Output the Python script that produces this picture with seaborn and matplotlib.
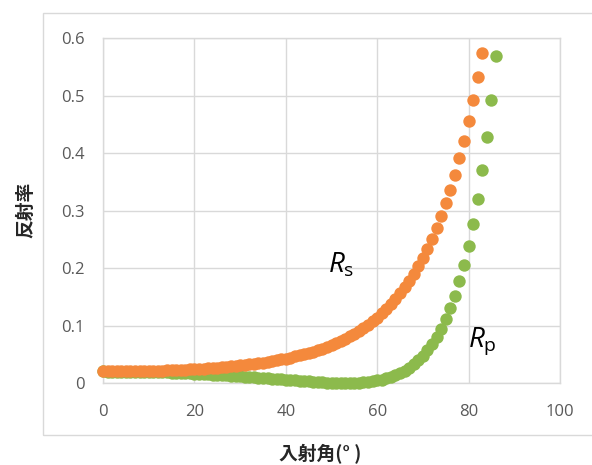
import numpy as np
import pandas as pd
import matplotlib.pyplot as plt
import seaborn as sns
from matplotlib.patches import Rectangle

# ---------------------------------------------------------------------------
# DATA (1 degree steps)
# ---------------------------------------------------------------------------
angle_s = list(range(0, 84))
rs = [
    0.0201, 0.0201, 0.0201, 0.0201, 0.0202, 0.0203, 0.0204, 0.0205, 0.0207, 0.0208,
    0.0210, 0.0212, 0.0214, 0.0217, 0.0220, 0.0223, 0.0226, 0.0229, 0.0233, 0.0237,
    0.0241, 0.0246, 0.0251, 0.0256, 0.0262, 0.0268, 0.0274, 0.0281, 0.0289, 0.0297,
    0.0305, 0.0314, 0.0323, 0.0333, 0.0344, 0.0356, 0.0368, 0.0381, 0.0395, 0.0410,
    0.0426, 0.0443, 0.0461, 0.0480, 0.0501, 0.0523, 0.0547, 0.0572, 0.0600, 0.0629,
    0.0660, 0.0694, 0.0730, 0.0769, 0.0810, 0.0855, 0.0904, 0.0956, 0.1013, 0.1073,
    0.1139, 0.1210, 0.1287, 0.1370, 0.1459, 0.1557, 0.1662, 0.1776, 0.1900, 0.2035,
    0.2180, 0.2339, 0.2511, 0.2698, 0.2901, 0.3122, 0.3362, 0.3623, 0.3907, 0.4216,
    0.4552, 0.4917, 0.5314, 0.5746,
]

angle_p = list(range(0, 87))
rp = [
    0.0201, 0.0200, 0.0200, 0.0200, 0.0199, 0.0198, 0.0197, 0.0196, 0.0195, 0.0193,
    0.0191, 0.0190, 0.0187, 0.0185, 0.0183, 0.0180, 0.0177, 0.0174, 0.0171, 0.0167,
    0.0164, 0.0160, 0.0156, 0.0152, 0.0147, 0.0143, 0.0138, 0.0133, 0.0128, 0.0123,
    0.0117, 0.0112, 0.0106, 0.0100, 0.0094, 0.0088, 0.0082, 0.0076, 0.0070, 0.0064,
    0.0057, 0.0051, 0.0045, 0.0039, 0.0033, 0.0027, 0.0022, 0.0017, 0.0012, 0.0008,
    0.0005, 0.0002, 0.0001, 0.0000, 0.0001, 0.0003, 0.0006, 0.0012, 0.0020, 0.0030,
    0.0044, 0.0060, 0.0081, 0.0106, 0.0136, 0.0172, 0.0215, 0.0265, 0.0324, 0.0393,
    0.0473, 0.0566, 0.0673, 0.0798, 0.0941, 0.1107, 0.1297, 0.1516, 0.1767, 0.2055,
    0.2386, 0.2766, 0.3202, 0.3701, 0.4274, 0.4930, 0.5684,
]

x_ticks = [0, 20, 40, 60, 80, 100]
y_ticks = [0, 0.1, 0.2, 0.3, 0.4, 0.5, 0.6]
y_tick_labels = ["0", "0.1", "0.2", "0.3", "0.4", "0.5", "0.6"]

ORANGE = "#F4893C"
GREEN = "#8CBA4C"
GRID = "#D9D9D9"

# ---------------------------------------------------------------------------
# PLOT
# ---------------------------------------------------------------------------
sns.set_theme(style="white")
plt.rcParams["font.family"] = ["Open Sans", "Noto Sans CJK JP", "DejaVu Sans"]
plt.rcParams["mathtext.fontset"] = "custom"
plt.rcParams["mathtext.it"] = "Open Sans:italic"
plt.rcParams["mathtext.rm"] = "Open Sans"

W, H = 592, 465
fig = plt.figure(figsize=(W / 100, H / 100), dpi=100)
ax = fig.add_axes([103 / W, 1 - 383 / H, 457 / W, 345 / H])

sns.scatterplot(x=angle_p, y=rp, color=GREEN, s=80, linewidth=0, ax=ax,
                clip_on=False, zorder=3)
sns.scatterplot(x=angle_s, y=rs, color=ORANGE, s=80, linewidth=0, ax=ax,
                clip_on=False, zorder=4)

ax.set_xlim(0, 100)
ax.set_ylim(0, 0.6)
ax.set_xticks(x_ticks)
ax.set_yticks(y_ticks)
ax.set_yticklabels(y_tick_labels)
ax.grid(True, color=GRID, lw=1)
ax.set_axisbelow(True)
for sp in ax.spines.values():
    sp.set_color(GRID)
    sp.set_linewidth(1)
ax.tick_params(axis="both", length=0, labelsize=12, colors="#595959")
ax.tick_params(axis="x", pad=15)
ax.tick_params(axis="y", pad=13)

ax.text(52.2, 0.205, r"$R_{\mathrm{s}}$", fontsize=20, ha="center", va="center",
        color="black")
ax.text(83.0, 0.072, r"$R_{\mathrm{p}}$", fontsize=20, ha="center", va="center",
        color="black")

# axis titles sit outside the chart border, like the original
fig.text(26 / W, 1 - 210 / H, "反射率", rotation=90, ha="center", va="center",
         fontsize=13.5, fontweight="bold", family=["Noto Sans CJK JP", "DejaVu Sans"])
fig.text(320 / W, 1 - 454 / H, "入射角(° )", ha="center", va="center",
         fontsize=13.5, fontweight="bold", family=["Noto Sans CJK JP", "DejaVu Sans"])

fig.patches.append(Rectangle((43 / W, 1 - 435 / H), (W + 10 - 43) / W, (435 - 13) / H,
                             transform=fig.transFigure, fill=False, ec=GRID, lw=1))

fig.savefig("out.png", dpi=100)
